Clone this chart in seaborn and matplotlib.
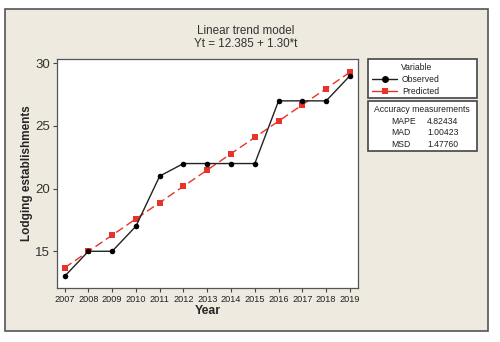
import matplotlib
matplotlib.use("Agg")
import matplotlib.pyplot as plt
import seaborn as sns
import pandas as pd
from matplotlib.patches import Rectangle
from matplotlib.lines import Line2D

years = [2007, 2008, 2009, 2010, 2011, 2012, 2013, 2014, 2015, 2016, 2017, 2018, 2019]
observed = [13, 15, 15, 17, 21, 22, 22, 22, 22, 27, 27, 27, 29]
predicted = [13.685, 14.985, 16.285, 17.585, 18.885, 20.185, 21.485, 22.785,
             24.085, 25.385, 26.685, 27.985, 29.285]
yticks = [15, 20, 25, 30]
acc_names = ["MAPE", "MAD", "MSD"]
acc_values = ["4.82434", "1.00423", "1.47760"]

df = pd.DataFrame({"Year": years, "Observed": observed, "Predicted": predicted})

sns.set_style("white")
plt.rcParams['font.family'] = ['Liberation Sans', 'DejaVu Sans']

W, H = 500, 342
fig = plt.figure(figsize=(5, 3.42), dpi=100)
fig.patch.set_facecolor("white")
bg = "#EEEAE0"
fig.patches.append(Rectangle((5 / W, 1 - 331 / H), 483 / W, 322 / H, transform=fig.transFigure,
                             facecolor=bg, edgecolor="#555555", linewidth=1.2, zorder=-10))

ax = fig.add_axes([57 / W, 1 - 288 / H, 301 / W, 229 / H])
ax.set_facecolor("white")

red = "#E8322A"
sns.lineplot(data=df, x="Year", y="Predicted", ax=ax, color=red, linestyle=(0, (6, 3)),
             linewidth=1.0, marker="s", markersize=4.5, markeredgewidth=0, markerfacecolor=red)
sns.lineplot(data=df, x="Year", y="Observed", ax=ax, color="#222222", linewidth=1.0,
             marker="o", markersize=4, markeredgewidth=0, markerfacecolor="black")

ax.set_xlim(2006.68, 2019.34)
ax.set_ylim(12.07, 30.34)
ax.set_xticks(years)
ax.set_xticklabels([str(y) for y in years], fontsize=6.6, color="#222222")
ax.set_yticks(yticks)
ax.set_yticklabels([str(v) for v in yticks], fontsize=9.5, color="#333333")
ax.tick_params(axis="both", which="both", length=3, width=0.8, color="#444444", pad=2,
               bottom=True, left=True)
for s in ax.spines.values():
    s.set_color("#555555")
    s.set_linewidth(0.9)
ax.set_xlabel("Year", fontsize=8.8, fontweight="bold", labelpad=1)
ax.set_ylabel("Lodging establishments", fontsize=8.5, fontweight="bold")
ax.yaxis.set_label_coords(-(57 - 33) / 301, 0.5)

fig.text(246 / W, 1 - 31 / H, "Linear trend model", ha="center", va="center", fontsize=8.4, color="#333333")
fig.text(246 / W, 1 - 44 / H, "Yt = 12.385 + 1.30*t", ha="center", va="center", fontsize=8.4, color="#333333")

fs = 6.2
# Legend box 1
fig.patches.append(Rectangle((368 / W, 1 - 98 / H), 109 / W, 39 / H, transform=fig.transFigure,
                             facecolor="white", edgecolor="#444444", linewidth=1.2))
fig.text(417 / W, 1 - 68 / H, "Variable", ha="center", va="center", fontsize=fs, color="#222222")
fig.lines.append(Line2D([372 / W, 397 / W], [1 - 79 / H, 1 - 79 / H], transform=fig.transFigure,
                        color="#222222", linewidth=1.0))
fig.lines.append(Line2D([384.5 / W], [1 - 79 / H], transform=fig.transFigure,
                        color="black", marker="o", markersize=5, markeredgewidth=0, linestyle="none"))
fig.lines.append(Line2D([372 / W, 397 / W], [1 - 91 / H, 1 - 91 / H], transform=fig.transFigure,
                        color=red, linewidth=1.0))
fig.lines.append(Line2D([384.5 / W], [1 - 91 / H], transform=fig.transFigure,
                        color=red, marker="s", markersize=5, markeredgewidth=0, linestyle="none"))
fig.text(402 / W, 1 - 79 / H, "Observed", ha="left", va="center", fontsize=fs, color="#222222")
fig.text(402 / W, 1 - 91 / H, "Predicted", ha="left", va="center", fontsize=fs, color="#222222")

# Legend box 2
fig.patches.append(Rectangle((368 / W, 1 - 151 / H), 109 / W, 50 / H, transform=fig.transFigure,
                             facecolor="white", edgecolor="#444444", linewidth=1.2))
fig.text(422 / W, 1 - 110 / H, "Accuracy measurements", ha="center", va="center", fontsize=fs, color="#222222")
for i, (n, v) in enumerate(zip(acc_names, acc_values)):
    yy = 1 - (121.5 + i * 11.5) / H
    fig.text(391 / W, yy, n, ha="left", va="center", fontsize=fs, color="#222222")
    fig.text(427 / W, yy, v, ha="left", va="center", fontsize=fs, color="#222222")

fig.savefig("out.png", dpi=100, facecolor="white")
